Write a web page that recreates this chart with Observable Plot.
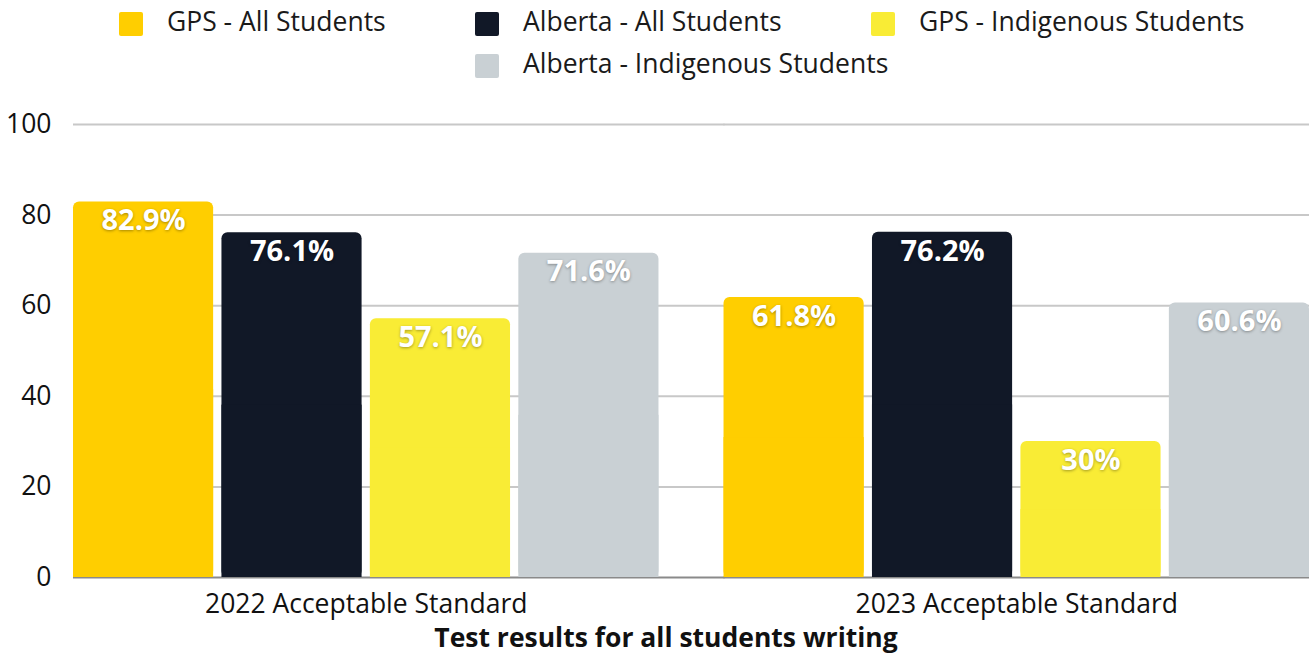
<!DOCTYPE html>
<html>
<head>
<meta charset="utf-8">
<script src="https://cdn.jsdelivr.net/npm/d3@7"></script>
<script src="https://cdn.jsdelivr.net/npm/@observablehq/plot@0.6"></script>
<style>
  body { margin: 0; background: #fff; font-family: "Open Sans", sans-serif; }
  #wrap { position: relative; width: 1309px; height: 655px; overflow: hidden; }
  .leg { position: absolute; display: flex; align-items: center; font-size: 26.5px; color: #1a1a1a; white-space: nowrap; }
  .leg span { position: relative; top: -3px; }
  .sw { width: 24px; height: 24px; border-radius: 2px; margin-right: 24px; }
  #chart { position: absolute; left: 0; top: 100px; }
  #title { position: absolute; left: 0; width: 1332px; top: 624px; height: 26px; line-height: 26px; text-align: center; font-weight: bold; font-size: 26.5px; color: #111; }
  g[aria-label="text"] text { text-shadow: 0 1px 3px rgba(0,0,0,0.35); }
</style>
</head>
<body>
<div id="wrap"></div>
<script>
const groups = ["2022 Acceptable Standard", "2023 Acceptable Standard"];
const series = ["GPS - All Students", "Alberta - All Students", "GPS - Indigenous Students", "Alberta - Indigenous Students"];
const values2022 = [82.9, 76.1, 57.1, 71.6];
const values2023 = [61.8, 76.2, 30, 60.6];
const colors = ["#FFCE00", "#111827", "#F9EC35", "#C9D0D4"];
const yTicks = [0, 20, 40, 60, 80, 100];
const title = "Test results for all students writing";

const data = [];
[values2022, values2023].forEach((vals, gi) => {
  vals.forEach((v, si) => data.push({group: groups[gi], series: series[si], value: v}));
});

const wrap = document.getElementById("wrap");

// legend
const legPos = [[119, 12], [475, 12], [871, 12], [475, 54]];
series.forEach((s, i) => {
  const d = document.createElement("div");
  d.className = "leg";
  d.style.left = legPos[i][0] + "px";
  d.style.top = legPos[i][1] + "px";
  d.style.height = "24px";
  const sw = document.createElement("div");
  sw.className = "sw";
  sw.style.background = colors[i];
  const t = document.createElement("span");
  t.textContent = s;
  d.appendChild(sw); d.appendChild(t);
  wrap.appendChild(d);
});

const chart = Plot.plot({
  width: 1309,
  height: 555,
  marginLeft: 73,
  marginRight: 0,
  marginTop: 24,
  marginBottom: 78,
  style: { fontFamily: "Open Sans, sans-serif", fontSize: "26.5px", color: "#111", background: "transparent", overflow: "visible" },
  fx: { domain: groups, paddingInner: 0.1, paddingOuter: 0, round: false, label: null, axis: "bottom", tickSize: 0, tickPadding: 17 },
  x: { domain: series, paddingInner: 0.056, paddingOuter: 0, round: false, axis: null },
  y: { domain: [0, 100], ticks: yTicks, tickSize: 0, tickPadding: 22, label: null },
  color: { domain: series, range: colors },
  marks: [
    Plot.ruleY(yTicks.filter(t => t > 0), { stroke: "#c8c8c8", strokeWidth: 2, insetRight: -66 }),
    Plot.ruleY([0], { stroke: "#8a8a8a", strokeWidth: 2, insetRight: -66 }),
    Plot.barY(data, { fx: "group", x: "series", y: "value", fill: "series", rx: 6 }),
    Plot.barY(data, { fx: "group", x: "series", y1: 0, y2: d => d.value / 2, fill: "series" }),
    Plot.text(data, { fx: "group", x: "series", y: "value", text: d => d.value + "%", fill: "white", fontWeight: "bold", fontSize: 29, dy: 19, lineAnchor: "middle" })
  ]
});
const holder = document.createElement("div");
holder.id = "chart";
holder.appendChild(chart);
wrap.appendChild(holder);

const tt = document.createElement("div");
tt.id = "title";
tt.textContent = title;
wrap.appendChild(tt);
</script>
</body>
</html>
